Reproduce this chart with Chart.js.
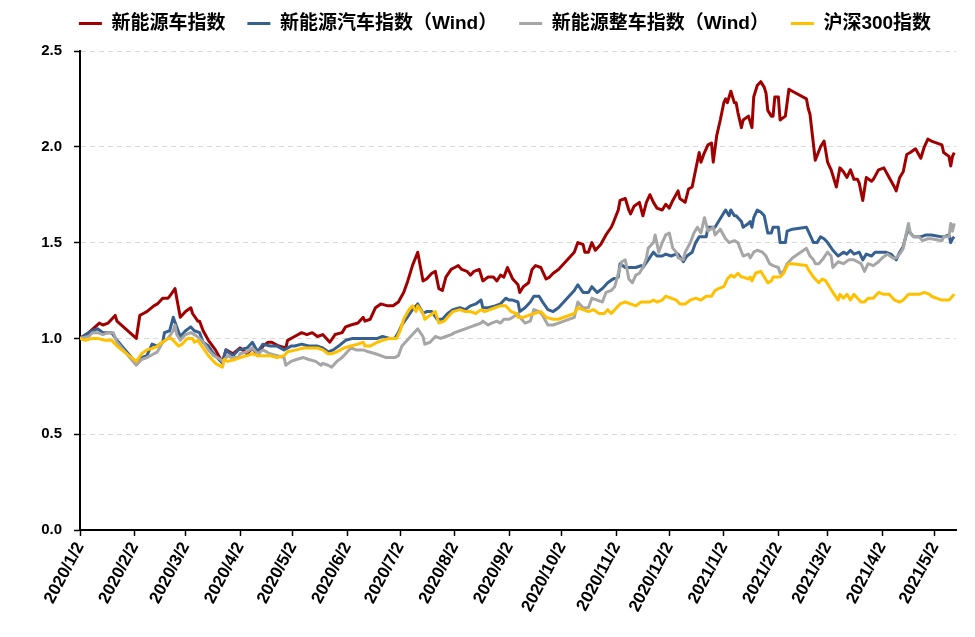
<!DOCTYPE html>
<html>
<head>
<meta charset="utf-8">
<script src="https://cdn.jsdelivr.net/npm/chart.js@4/dist/chart.umd.min.js"></script>
<style>
html,body{margin:0;padding:0;background:#fff;}
#wrap{width:975px;height:637px;position:relative;}
</style>
</head>
<body>
<div id="wrap"><canvas id="c" width="975" height="637"></canvas></div>
<script>
const seriesNames = ["新能源车指数", "新能源汽车指数（Wind）", "新能源整车指数（Wind）", "沪深300指数"];
const seriesColors = ["#A00000", "#35608F", "#A6A6A6", "#FFC000"];

const tickLabels = ["2020/1/2","2020/2/2","2020/3/2","2020/4/2","2020/5/2","2020/6/2","2020/7/2","2020/8/2","2020/9/2","2020/10/2","2020/11/2","2020/12/2","2021/1/2","2021/2/2","2021/3/2","2021/4/2","2021/5/2"];
const axisStart = "2020/1/2";
const axisEnd = "2021/5/14";

// 新能源车指数
const redDates = [
"2020/1/2","2020/1/7","2020/1/13","2020/1/15","2020/1/18","2020/1/22","2020/1/23",
"2020/2/3","2020/2/5","2020/2/7","2020/2/9","2020/2/13","2020/2/15","2020/2/18","2020/2/21","2020/2/22","2020/2/25","2020/2/26","2020/2/28",
"2020/3/2","2020/3/5","2020/3/6","2020/3/9","2020/3/10","2020/3/12","2020/3/15","2020/3/19","2020/3/22","2020/3/23","2020/3/25","2020/3/29",
"2020/4/2","2020/4/6","2020/4/9","2020/4/12","2020/4/15","2020/4/18","2020/4/20","2020/4/24","2020/4/28","2020/4/29",
"2020/5/3","2020/5/7","2020/5/10","2020/5/13","2020/5/16","2020/5/19","2020/5/22","2020/5/23","2020/5/26","2020/5/30",
"2020/6/1","2020/6/4","2020/6/8","2020/6/11","2020/6/12","2020/6/15","2020/6/18","2020/6/21","2020/6/25","2020/6/28",
"2020/7/1","2020/7/4","2020/7/6","2020/7/9","2020/7/12","2020/7/13","2020/7/15","2020/7/17","2020/7/20","2020/7/22","2020/7/24","2020/7/26","2020/7/28","2020/7/31",
"2020/8/2","2020/8/4","2020/8/6","2020/8/9","2020/8/11","2020/8/13","2020/8/16","2020/8/18","2020/8/21","2020/8/24","2020/8/26","2020/8/28","2020/8/30",
"2020/9/1","2020/9/3","2020/9/4","2020/9/7","2020/9/8","2020/9/10","2020/9/13","2020/9/15","2020/9/17","2020/9/20","2020/9/23","2020/9/25","2020/9/27","2020/9/30",
"2020/10/9","2020/10/11","2020/10/14","2020/10/15","2020/10/17","2020/10/19","2020/10/21","2020/10/24","2020/10/27","2020/10/30","2020/10/31",
"2020/11/3","2020/11/4","2020/11/7","2020/11/9","2020/11/10","2020/11/12","2020/11/15","2020/11/17","2020/11/19","2020/11/21","2020/11/23","2020/11/25","2020/11/28","2020/11/30",
"2020/12/2","2020/12/4","2020/12/7","2020/12/8","2020/12/11","2020/12/13","2020/12/15","2020/12/17","2020/12/19","2020/12/20","2020/12/22","2020/12/24","2020/12/26","2020/12/27","2020/12/29","2020/12/31",
"2021/1/2","2021/1/3","2021/1/4","2021/1/6","2021/1/8","2021/1/9","2021/1/10","2021/1/12","2021/1/13","2021/1/16","2021/1/18","2021/1/19","2021/1/21","2021/1/23","2021/1/25","2021/1/26","2021/1/27","2021/1/29","2021/1/30","2021/1/31",
"2021/2/2","2021/2/3","2021/2/6","2021/2/8","2021/2/10","2021/2/18","2021/2/19","2021/2/20","2021/2/23","2021/2/26","2021/2/28",
"2021/3/2","2021/3/4","2021/3/7","2021/3/9","2021/3/11","2021/3/13","2021/3/15","2021/3/17","2021/3/19","2021/3/20","2021/3/22","2021/3/24","2021/3/27","2021/3/28","2021/3/31",
"2021/4/3","2021/4/6","2021/4/9","2021/4/10","2021/4/12","2021/4/14","2021/4/16","2021/4/18","2021/4/21","2021/4/24","2021/4/26","2021/4/28","2021/4/30",
"2021/5/6","2021/5/7","2021/5/10","2021/5/11","2021/5/12","2021/5/13"];
const redValues = [
1.00,1.03,1.08,1.07,1.08,1.12,1.09,
1.00,1.12,1.13,1.14,1.17,1.18,1.21,1.21,1.22,1.26,1.21,1.11,
1.14,1.16,1.13,1.09,1.09,1.04,0.99,0.94,0.89,0.88,0.94,0.92,
0.95,0.92,0.95,0.91,0.96,0.98,0.98,0.96,0.95,0.99,
1.01,1.03,1.02,1.03,1.01,1.02,0.99,0.98,1.02,1.03,
1.06,1.07,1.08,1.11,1.09,1.10,1.16,1.18,1.17,1.17,
1.19,1.24,1.29,1.38,1.45,1.40,1.30,1.31,1.34,1.35,1.26,1.25,1.32,1.36,
1.37,1.38,1.36,1.35,1.33,1.35,1.36,1.30,1.32,1.32,1.30,1.33,1.32,
1.37,1.33,1.31,1.28,1.24,1.27,1.29,1.36,1.38,1.37,1.31,1.32,1.34,1.36,
1.45,1.50,1.49,1.45,1.45,1.50,1.46,1.49,1.54,1.58,1.60,
1.67,1.72,1.73,1.67,1.65,1.69,1.71,1.64,1.71,1.75,1.71,1.68,1.67,1.70,
1.68,1.72,1.77,1.73,1.71,1.78,1.79,1.88,1.97,1.92,1.97,2.01,2.02,1.92,2.06,2.14,
2.23,2.25,2.23,2.29,2.23,2.23,2.18,2.10,2.14,2.16,2.10,2.26,2.32,2.34,2.31,2.28,2.19,2.16,2.16,2.26,
2.26,2.14,2.16,2.30,2.29,2.25,2.20,2.17,1.93,2.00,2.03,
1.92,1.88,1.79,1.89,1.87,1.84,1.88,1.83,1.83,1.81,1.72,1.84,1.82,1.83,1.88,
1.89,1.84,1.79,1.77,1.84,1.87,1.96,1.97,1.99,1.94,2.00,2.04,2.03,
2.01,1.97,1.95,1.90,1.95,1.97];

// 新能源汽车指数（Wind）
const blueDates = [
"2020/1/2","2020/1/7","2020/1/9","2020/1/12","2020/1/15","2020/1/17","2020/1/20","2020/1/23",
"2020/2/3","2020/2/6","2020/2/9","2020/2/12","2020/2/15","2020/2/18","2020/2/19","2020/2/22","2020/2/24","2020/2/26","2020/2/28",
"2020/3/2","2020/3/5","2020/3/7","2020/3/10","2020/3/12","2020/3/15","2020/3/18","2020/3/21","2020/3/23","2020/3/25","2020/3/26","2020/3/29",
"2020/4/1","2020/4/6","2020/4/9","2020/4/12","2020/4/15","2020/4/19","2020/4/23","2020/4/27",
"2020/5/1","2020/5/3","2020/5/7","2020/5/11","2020/5/14","2020/5/16","2020/5/19","2020/5/22","2020/5/25","2020/5/28",
"2020/6/1","2020/6/5","2020/6/8","2020/6/11","2020/6/15","2020/6/19","2020/6/22","2020/6/26","2020/6/29",
"2020/7/1","2020/7/3","2020/7/6","2020/7/9","2020/7/12","2020/7/15","2020/7/17","2020/7/20","2020/7/23","2020/7/26","2020/7/29",
"2020/8/1","2020/8/5","2020/8/8","2020/8/11","2020/8/14","2020/8/17","2020/8/18","2020/8/21","2020/8/25","2020/8/28","2020/8/31",
"2020/9/2","2020/9/4","2020/9/7","2020/9/8","2020/9/11","2020/9/14","2020/9/16","2020/9/19","2020/9/21","2020/9/24","2020/9/27","2020/9/30",
"2020/10/9","2020/10/11","2020/10/14","2020/10/17","2020/10/19","2020/10/22","2020/10/25","2020/10/28","2020/10/31",
"2020/11/3","2020/11/4","2020/11/7","2020/11/10","2020/11/13","2020/11/16","2020/11/17","2020/11/20","2020/11/23","2020/11/25","2020/11/28","2020/11/30",
"2020/12/3","2020/12/6","2020/12/7","2020/12/10","2020/12/12","2020/12/15","2020/12/17","2020/12/19","2020/12/21","2020/12/23","2020/12/24","2020/12/27","2020/12/28","2020/12/30",
"2021/1/1","2021/1/3","2021/1/5","2021/1/6","2021/1/8","2021/1/9","2021/1/12","2021/1/13","2021/1/16","2021/1/17","2021/1/18","2021/1/19","2021/1/21","2021/1/23","2021/1/25","2021/1/27","2021/1/29","2021/1/30",
"2021/2/2","2021/2/3","2021/2/6","2021/2/7","2021/2/10","2021/2/18","2021/2/19","2021/2/22","2021/2/24","2021/2/26","2021/2/28",
"2021/3/2","2021/3/5","2021/3/8","2021/3/11","2021/3/13","2021/3/15","2021/3/17","2021/3/20","2021/3/22","2021/3/24","2021/3/27","2021/3/29",
"2021/4/1","2021/4/4","2021/4/7","2021/4/10","2021/4/12","2021/4/14","2021/4/16","2021/4/17","2021/4/20","2021/4/24","2021/4/27","2021/4/30",
"2021/5/6","2021/5/7","2021/5/10","2021/5/11","2021/5/12","2021/5/13"];
const blueValues = [
1.00,1.03,1.04,1.05,1.03,1.03,1.03,0.99,
0.87,0.90,0.91,0.97,0.96,0.98,1.03,1.04,1.11,1.06,1.01,
1.04,1.06,1.04,1.03,0.98,0.96,0.92,0.89,0.87,0.94,0.93,0.91,
0.94,0.95,0.98,0.93,0.97,0.96,0.96,0.94,
0.96,0.96,0.97,0.96,0.96,0.96,0.95,0.93,0.94,0.96,
0.99,1.00,1.00,1.00,1.00,1.00,1.01,1.00,1.00,
1.03,1.07,1.11,1.15,1.18,1.13,1.14,1.14,1.10,1.10,1.13,
1.15,1.16,1.15,1.17,1.18,1.20,1.16,1.16,1.17,1.18,1.21,
1.20,1.20,1.19,1.14,1.16,1.19,1.22,1.22,1.19,1.15,1.14,1.16,
1.25,1.28,1.24,1.24,1.27,1.24,1.26,1.29,1.31,
1.32,1.39,1.37,1.37,1.37,1.38,1.37,1.41,1.45,1.43,1.43,1.44,
1.43,1.44,1.44,1.40,1.43,1.45,1.50,1.53,1.53,1.53,1.58,1.58,1.58,1.61,
1.64,1.67,1.64,1.67,1.64,1.64,1.61,1.58,1.60,1.61,1.58,1.63,1.67,1.66,1.64,1.55,1.55,1.58,
1.58,1.50,1.50,1.56,1.57,1.58,1.56,1.50,1.50,1.53,1.52,
1.50,1.46,1.43,1.45,1.44,1.46,1.44,1.45,1.41,1.44,1.43,1.45,
1.45,1.45,1.44,1.41,1.45,1.48,1.55,1.56,1.53,1.53,1.54,1.54,
1.53,1.53,1.54,1.50,1.52,1.53];

// 新能源整车指数（Wind）
const greyDates = [
"2020/1/2","2020/1/7","2020/1/9","2020/1/12","2020/1/15","2020/1/18","2020/1/21","2020/1/23",
"2020/2/3","2020/2/6","2020/2/9","2020/2/13","2020/2/15","2020/2/18","2020/2/21","2020/2/24","2020/2/25","2020/2/26","2020/2/28",
"2020/3/2","2020/3/5","2020/3/7","2020/3/10","2020/3/12","2020/3/15","2020/3/18","2020/3/22","2020/3/23","2020/3/26","2020/3/28",
"2020/4/1","2020/4/2","2020/4/6","2020/4/9","2020/4/12","2020/4/15","2020/4/19","2020/4/23","2020/4/27","2020/4/28",
"2020/5/1","2020/5/4","2020/5/8","2020/5/11","2020/5/15","2020/5/18","2020/5/19","2020/5/22","2020/5/24","2020/5/27","2020/5/30",
"2020/6/2","2020/6/4","2020/6/7","2020/6/11","2020/6/14","2020/6/18","2020/6/21","2020/6/24","2020/6/26","2020/6/29",
"2020/7/1","2020/7/3","2020/7/6","2020/7/9","2020/7/12","2020/7/15","2020/7/16","2020/7/19","2020/7/22","2020/7/25","2020/7/28","2020/7/31",
"2020/8/2","2020/8/5","2020/8/8","2020/8/11","2020/8/14","2020/8/17","2020/8/18","2020/8/21","2020/8/23","2020/8/26","2020/8/28","2020/8/30",
"2020/9/2","2020/9/4","2020/9/7","2020/9/8","2020/9/11","2020/9/14","2020/9/16","2020/9/19","2020/9/21","2020/9/24","2020/9/27","2020/9/30",
"2020/10/9","2020/10/11","2020/10/14","2020/10/17","2020/10/19","2020/10/22","2020/10/25","2020/10/27","2020/10/30",
"2020/11/1","2020/11/3","2020/11/5","2020/11/7","2020/11/9","2020/11/11","2020/11/13","2020/11/15","2020/11/17","2020/11/19","2020/11/20","2020/11/23","2020/11/24","2020/11/26","2020/11/28","2020/11/30",
"2020/12/2","2020/12/4","2020/12/6","2020/12/7","2020/12/10","2020/12/11","2020/12/14","2020/12/16","2020/12/18","2020/12/20","2020/12/22","2020/12/24","2020/12/27","2020/12/28","2020/12/31",
"2021/1/3","2021/1/5","2021/1/8","2021/1/10","2021/1/13","2021/1/16","2021/1/17","2021/1/19","2021/1/21","2021/1/24","2021/1/26","2021/1/28","2021/1/30",
"2021/2/2","2021/2/3","2021/2/5","2021/2/7","2021/2/10","2021/2/18","2021/2/20","2021/2/22","2021/2/23","2021/2/25","2021/2/27",
"2021/3/2","2021/3/4","2021/3/5","2021/3/8","2021/3/11","2021/3/14","2021/3/17","2021/3/19","2021/3/21","2021/3/23","2021/3/25","2021/3/28","2021/3/31",
"2021/4/2","2021/4/5","2021/4/8","2021/4/10","2021/4/12","2021/4/14","2021/4/16","2021/4/17","2021/4/18","2021/4/20","2021/4/23","2021/4/25","2021/4/28","2021/4/30",
"2021/5/6","2021/5/7","2021/5/10","2021/5/11","2021/5/12","2021/5/13"];
const greyValues = [
1.00,1.01,1.03,1.03,1.02,1.03,1.03,0.98,
0.86,0.89,0.90,0.92,0.93,0.98,1.00,1.04,1.07,1.02,0.99,
1.02,1.03,1.02,1.00,0.98,0.94,0.91,0.89,0.88,0.91,0.90,
0.90,0.92,0.93,0.95,0.92,0.94,0.92,0.91,0.90,0.86,
0.88,0.89,0.90,0.89,0.88,0.86,0.87,0.86,0.85,0.88,0.90,
0.93,0.95,0.94,0.94,0.93,0.92,0.91,0.90,0.90,0.90,
0.91,0.96,0.99,1.02,1.05,1.01,0.97,0.98,1.01,1.00,1.01,1.02,
1.03,1.04,1.05,1.06,1.07,1.08,1.09,1.07,1.08,1.09,1.08,1.10,
1.10,1.11,1.13,1.11,1.08,1.09,1.15,1.14,1.12,1.07,1.07,1.08,
1.11,1.19,1.16,1.16,1.21,1.20,1.19,1.24,1.25,
1.27,1.34,1.40,1.41,1.31,1.29,1.33,1.34,1.37,1.42,1.47,1.50,1.54,1.45,1.50,1.54,
1.55,1.47,1.45,1.42,1.41,1.45,1.50,1.55,1.58,1.55,1.63,1.56,1.58,1.54,1.57,
1.52,1.50,1.51,1.50,1.43,1.44,1.42,1.45,1.46,1.45,1.43,1.39,1.38,
1.37,1.34,1.35,1.39,1.42,1.47,1.43,1.41,1.39,1.39,1.41,
1.45,1.43,1.37,1.40,1.39,1.41,1.41,1.40,1.39,1.35,1.39,1.38,1.40,
1.42,1.44,1.42,1.42,1.44,1.47,1.56,1.60,1.55,1.53,1.53,1.51,1.52,1.52,
1.51,1.53,1.53,1.60,1.56,1.60];

// 沪深300指数
const yellowDates = [
"2020/1/2","2020/1/5","2020/1/9","2020/1/12","2020/1/16","2020/1/20","2020/1/23",
"2020/2/3","2020/2/6","2020/2/9","2020/2/13","2020/2/15","2020/2/18","2020/2/21","2020/2/23","2020/2/25","2020/2/27","2020/2/29",
"2020/3/3","2020/3/6","2020/3/7","2020/3/9","2020/3/12","2020/3/15","2020/3/19","2020/3/23","2020/3/24","2020/3/26","2020/3/30",
"2020/4/2","2020/4/6","2020/4/9","2020/4/12","2020/4/15","2020/4/19","2020/4/23","2020/4/27","2020/4/29",
"2020/5/4","2020/5/8","2020/5/12","2020/5/16","2020/5/19","2020/5/22","2020/5/24","2020/5/27","2020/5/31",
"2020/6/4","2020/6/8","2020/6/11","2020/6/12","2020/6/15","2020/6/19","2020/6/22","2020/6/26","2020/6/30",
"2020/7/2","2020/7/4","2020/7/7","2020/7/9","2020/7/11","2020/7/12","2020/7/15","2020/7/16","2020/7/19","2020/7/22","2020/7/24","2020/7/27","2020/7/29",
"2020/8/1","2020/8/5","2020/8/8","2020/8/11","2020/8/14","2020/8/17","2020/8/19","2020/8/22","2020/8/25","2020/8/28","2020/8/31",
"2020/9/3","2020/9/6","2020/9/7","2020/9/10","2020/9/13","2020/9/16","2020/9/20","2020/9/23","2020/9/27","2020/9/30",
"2020/10/9","2020/10/11","2020/10/14","2020/10/17","2020/10/20","2020/10/23","2020/10/26","2020/10/28","2020/10/30",
"2020/11/1","2020/11/4","2020/11/7","2020/11/10","2020/11/13","2020/11/16","2020/11/19","2020/11/21","2020/11/23","2020/11/25","2020/11/28","2020/11/30",
"2020/12/3","2020/12/6","2020/12/8","2020/12/11","2020/12/14","2020/12/17","2020/12/20","2020/12/23","2020/12/26","2020/12/28","2020/12/30",
"2021/1/2","2021/1/4","2021/1/6","2021/1/8","2021/1/10","2021/1/12","2021/1/13","2021/1/16","2021/1/17","2021/1/18","2021/1/20","2021/1/23","2021/1/25","2021/1/27","2021/1/29","2021/1/30",
"2021/2/2","2021/2/3","2021/2/5","2021/2/7","2021/2/8","2021/2/10","2021/2/18","2021/2/19","2021/2/22","2021/2/23","2021/2/25","2021/2/27",
"2021/3/1","2021/3/3","2021/3/5","2021/3/8","2021/3/9","2021/3/11","2021/3/13","2021/3/15","2021/3/17","2021/3/19","2021/3/21","2021/3/23","2021/3/25","2021/3/28","2021/3/29","2021/3/31",
"2021/4/3","2021/4/6","2021/4/9","2021/4/12","2021/4/14","2021/4/17","2021/4/20","2021/4/23","2021/4/26","2021/4/29","2021/4/30",
"2021/5/6","2021/5/7","2021/5/10","2021/5/11","2021/5/12","2021/5/13"];
const yellowValues = [
1.00,0.99,1.00,1.00,0.99,0.99,0.96,
0.88,0.92,0.94,0.95,0.96,0.98,1.00,1.00,0.98,0.96,0.97,
1.00,1.00,0.98,0.99,0.95,0.91,0.87,0.85,0.89,0.88,0.89,
0.90,0.91,0.92,0.91,0.91,0.91,0.90,0.91,0.93,
0.94,0.95,0.95,0.95,0.94,0.92,0.92,0.93,0.95,
0.96,0.97,0.98,0.96,0.96,0.98,0.99,1.00,1.00,
1.04,1.10,1.15,1.17,1.14,1.17,1.13,1.10,1.12,1.14,1.08,1.09,1.11,
1.14,1.15,1.14,1.14,1.13,1.15,1.14,1.15,1.16,1.17,1.17,
1.14,1.13,1.11,1.11,1.12,1.13,1.14,1.11,1.10,1.10,
1.13,1.16,1.15,1.14,1.15,1.13,1.13,1.15,1.13,
1.15,1.18,1.19,1.18,1.17,1.19,1.19,1.19,1.20,1.19,1.20,1.22,
1.21,1.20,1.18,1.18,1.20,1.21,1.20,1.22,1.22,1.25,1.26,
1.27,1.31,1.33,1.32,1.34,1.32,1.32,1.31,1.32,1.30,1.34,1.35,1.32,1.29,1.30,1.32,
1.32,1.32,1.34,1.38,1.39,1.39,1.38,1.36,1.32,1.31,1.29,1.31,
1.30,1.27,1.24,1.20,1.23,1.21,1.23,1.20,1.23,1.21,1.19,1.19,1.21,1.21,1.22,1.24,
1.23,1.23,1.20,1.19,1.20,1.23,1.23,1.23,1.24,1.23,1.22,
1.20,1.20,1.20,1.21,1.22,1.23];

const BASE = Date.UTC(2020, 0, 2);
function dayOf(s) {
  const p = s.split('/').map(Number);
  return Math.round((Date.UTC(p[0], p[1] - 1, p[2]) - BASE) / 86400000);
}
function toPoints(dates, values, name) {
  if (dates.length !== values.length) throw new Error(name + ' length mismatch ' + dates.length + ' vs ' + values.length);
  return dates.map((d, i) => ({ x: dayOf(d), y: values[i] }));
}
const tickDays = tickLabels.map(dayOf);

Chart.defaults.font.family = '"Liberation Sans", "Noto Sans CJK SC", Arial, sans-serif';
Chart.defaults.color = '#000';

const FONT_FAMILY = Chart.defaults.font.family;
const legendTweak = {
  id: 'legendTweak',
  afterLayout(chart) {
    const lg = chart.legend;
    if (lg) {
      const dx = 505 - (lg.left + lg.right) / 2;
      lg.left += dx; lg.right += dx;
      lg.top -= 8; lg.bottom -= 8;
    }
  }
};

const allSeries = [
  [redDates, redValues],
  [blueDates, blueValues],
  [greyDates, greyValues],
  [yellowDates, yellowValues]
];

new Chart(document.getElementById('c'), {
  type: 'line',
  data: {
    datasets: allSeries.map((s, i) => ({
      label: seriesNames[i],
      data: toPoints(s[0], s[1], seriesNames[i]),
      borderColor: seriesColors[i],
      backgroundColor: seriesColors[i],
      borderWidth: 3,
      pointRadius: 0,
      tension: 0,
      fill: false,
      borderJoinStyle: 'round',
      order: 3 - i
    }))
  },
  options: {
    responsive: false,
    animation: false,
    devicePixelRatio: 1,
    layout: { padding: { left: 10, right: 19, top: 0, bottom: 0 } },
    plugins: {
      legend: {
        position: 'top',
        labels: {
          usePointStyle: true,
          pointStyle: 'line',
          pointStyleWidth: 23,
          padding: 22,
          color: '#000',
          font: { size: 19, weight: 'bold', family: FONT_FAMILY },
          sort: (a, b) => a.datasetIndex - b.datasetIndex
        }
      },
      tooltip: { enabled: false }
    },
    scales: {
      x: {
        type: 'linear',
        min: dayOf(axisStart),
        max: dayOf(axisEnd),
        afterBuildTicks: (scale) => { scale.ticks = tickDays.map(v => ({ value: v })); },
        afterFit: (scale) => { scale.height = 107; },
        ticks: {
          autoSkip: false,
          minRotation: 62,
          maxRotation: 62,
          padding: 3,
          color: '#000',
          font: { size: 17, weight: 'bold', family: FONT_FAMILY },
          callback: (v) => { const i = tickDays.indexOf(v); return i >= 0 ? tickLabels[i] : ''; }
        },
        grid: { drawOnChartArea: false, drawTicks: true, tickLength: 6, tickColor: '#000', tickWidth: 1.5 },
        border: { display: true, color: '#000', width: 2 }
      },
      y: {
        min: 0,
        max: 2.5,
        afterFit: (scale) => { scale.width = 70; },
        ticks: {
          stepSize: 0.5,
          padding: 12,
          color: '#000',
          font: { size: 15, weight: 'bold', family: FONT_FAMILY },
          callback: (v) => Number(v).toFixed(1)
        },
        grid: { color: '#D9D9D9', lineWidth: 1, drawTicks: true, tickLength: 6, tickColor: '#000', tickWidth: 1.5 },
        border: { display: true, color: '#000', width: 2, dash: [5, 4] }
      }
    }
  },
  plugins: [legendTweak]
});
</script>
</body>
</html>
